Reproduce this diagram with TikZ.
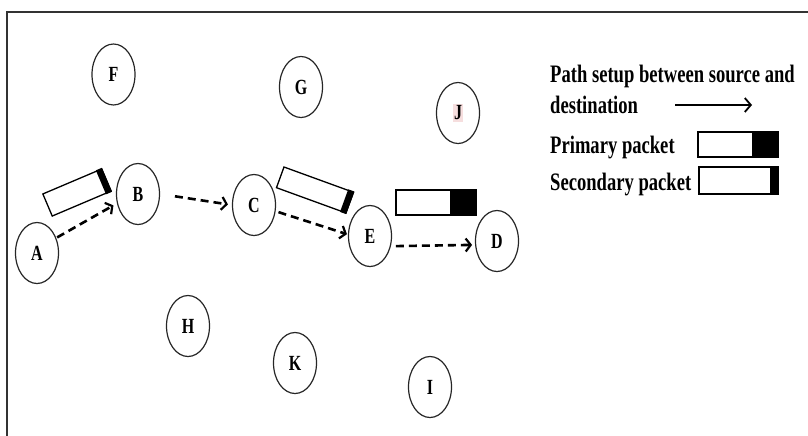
\documentclass[tikz,border=0pt]{standalone}
\usepackage{fontspec}
\setmainfont{Liberation Serif}
\usetikzlibrary{shapes.geometric,arrows.meta}
\definecolor{jpink}{RGB}{246,222,222}
\tikzset{
  netnode/.style={ellipse,draw=black!85,line width=1.2pt,minimum width=43pt,minimum height=61pt,inner sep=0pt},
  hop/.style={line width=2.6pt,dash pattern=on 8pt off 5pt,-{Straight Barb[length=5pt,width=13pt,line width=2.2pt]}},
  pkt/.style={draw=black,line width=1.3pt,fill=white},
  lbl/.style={anchor=base west,inner sep=0pt}
}
\newcommand{\nodelab}[1]{\scalebox{1}[1.35]{\fontsize{16}{16}\selectfont\bfseries #1}}
\newcommand{\legtext}[1]{\scalebox{1}[1.35]{\fontsize{18.6}{18.6}\selectfont\bfseries #1}}
\begin{document}
\begin{tikzpicture}[x=1pt,y=-1pt]
\useasboundingbox (0,0) rectangle (808,436);
% frame
\draw[line width=1.5pt,black!80] (7,436) -- (7,12) -- (808,12);
% nodes
\node[netnode] (F) at (113.5,74.5) {\nodelab{F}};
\node[netnode] (G) at (301,87) {\nodelab{G}};
\node[netnode] (J) at (458,113) {\nodelab{\setlength{\fboxsep}{1pt}\colorbox{jpink}{J}}};
\node[netnode] (A) at (37,253) {\nodelab{A}};
\node[netnode] (B) at (138,194) {\nodelab{B}};
\node[netnode] (C) at (254,205) {\nodelab{C}};
\node[netnode] (E) at (370,236) {\nodelab{E}};
\node[netnode] (D) at (497,241) {\nodelab{D}};
\node[netnode] (H) at (188,326) {\nodelab{H}};
\node[netnode] (K) at (295,363) {\nodelab{K}};
\node[netnode] (I) at (430,387) {\nodelab{I}};
% path arrows
\draw[hop,shorten <=1pt,shorten >=4pt] (A.38) -- (B.204);
\draw[hop,shorten <=15pt,shorten >=4pt] (B.0) -- (C.180);
\draw[hop,shorten <=3pt,shorten >=1pt] (C.-16) -- (E.176);
\draw[hop,shorten <=5pt,shorten >=3pt] (E.-26) -- (D.190);
% packet near A-B
\begin{scope}[shift={(77,192.5)},rotate=23]
  \draw[pkt] (-32,-12) rectangle (32,12);
  \fill[black] (26,-13) rectangle (32.5,13);
\end{scope}
% packet near C-E
\begin{scope}[shift={(315,190)},rotate=-20]
  \draw[pkt] (-37,-11) rectangle (37,11);
  \fill[black] (31,-12) rectangle (37.5,12);
\end{scope}
% packet above E-D
\draw[pkt] (396,190) rectangle (476,215);
\fill[black] (450,190) rectangle (476,215);
% legend
\node[lbl] (L1) at (550,82) {\legtext{Path setup between source and}};
\node[lbl] (L2) at (550,113) {\legtext{destination}};
\coordinate (La) at (675,105);
\coordinate (Lb) at (752,105);
\draw[line width=1.6pt,-{Straight Barb[length=6pt,width=14pt,line width=1.8pt]}] (La) -- (Lb);
\node[lbl] (L3) at (550,153) {\legtext{Primary packet}};
\draw[pkt] (698,132) rectangle (778,157);
\fill[black] (752,132) rectangle (778,157);
\node[lbl] (L4) at (550,190) {\legtext{Secondary packet}};
\draw[pkt] (699,167) rectangle (778,194);
\fill[black] (770,166) rectangle (778.5,194.5);
\end{tikzpicture}
\end{document}
